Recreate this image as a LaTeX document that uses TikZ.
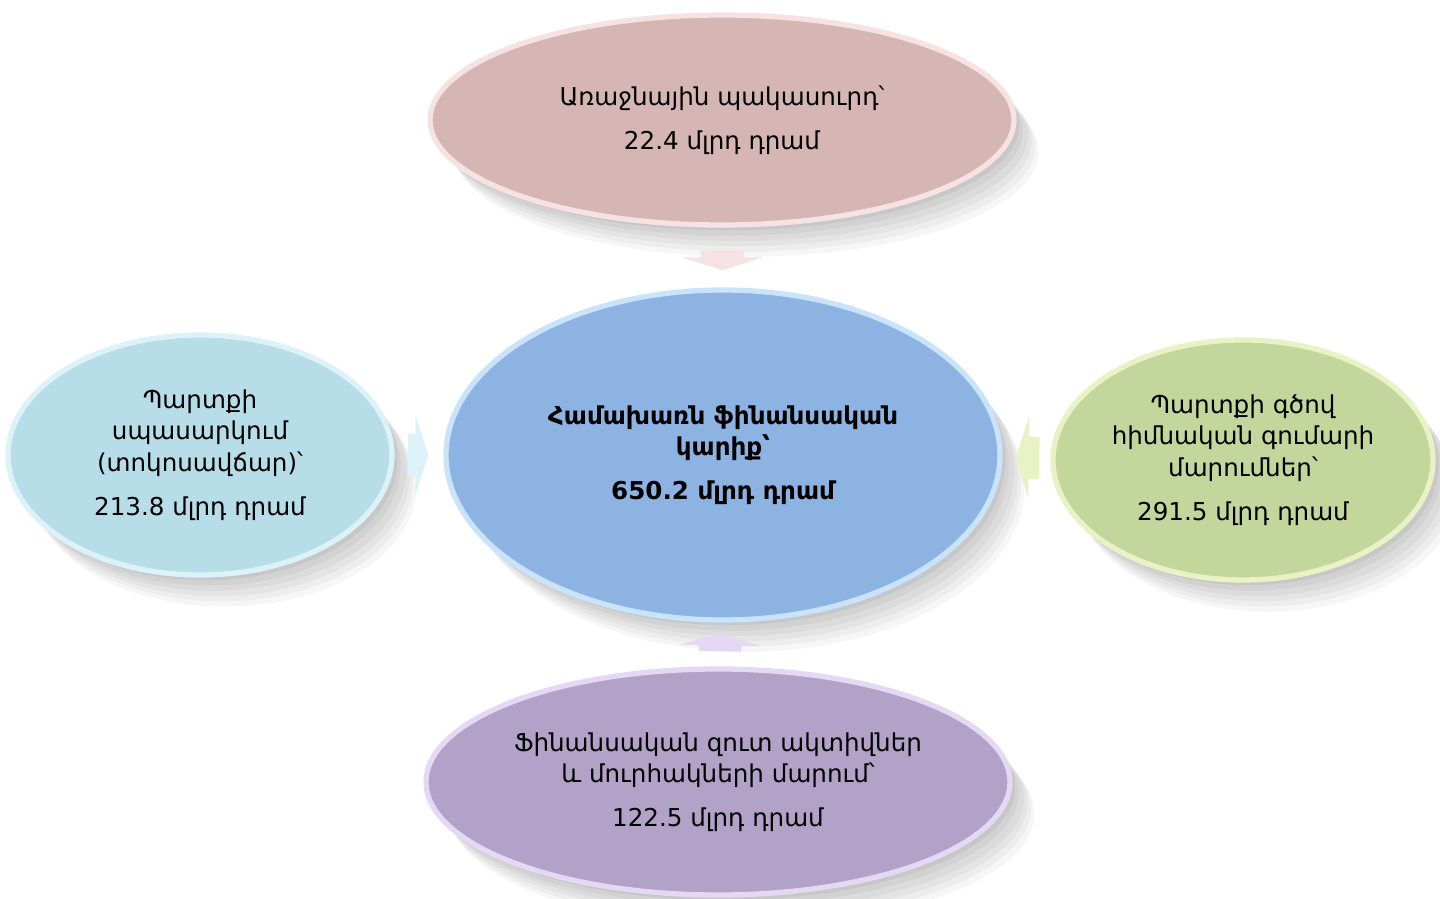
\documentclass[tikz,border=0pt]{standalone}
\usepackage{fontspec}
\setmainfont{DejaVu Sans}
\usetikzlibrary{arrows.meta,
                shadows,
                shapes.geometric
            }

\definecolor{rosefill}{HTML}{D5B6B5}
\definecolor{roserim}{HTML}{F6E2E2}
\definecolor{bluefill}{HTML}{8DB3E2}
\definecolor{bluerim}{HTML}{C9E3FA}
\definecolor{cyanfill}{HTML}{B7DDE8}
\definecolor{cyanrim}{HTML}{DDF2F8}
\definecolor{limefill}{HTML}{C3D69B}
\definecolor{limerim}{HTML}{E8F2C4}
\definecolor{lilacfill}{HTML}{B2A2C7}
\definecolor{lilacrim}{HTML}{E4D8F4}

\begin{document}
\begin{tikzpicture}[
    bubble/.style={ellipse, inner sep=0pt, align=center, line width=3pt,
        font=\fontsize{14}{18}\selectfont,
        general shadow={fill=black, opacity=0.035, shadow xshift=14pt, shadow yshift=-18pt},
        general shadow={fill=black, opacity=0.035, shadow xshift=12pt, shadow yshift=-15pt},
        general shadow={fill=black, opacity=0.04, shadow xshift=10pt, shadow yshift=-12pt},
        general shadow={fill=black, opacity=0.04, shadow xshift=8pt, shadow yshift=-9pt},
        general shadow={fill=black, opacity=0.045, shadow xshift=5pt, shadow yshift=-6pt},
        general shadow={fill=black, opacity=0.05, shadow xshift=3pt, shadow yshift=-3pt}},
    feed/.style={line width=0.85cm, -{Triangle[width=1.6cm, length=0.26cm]}}
]
    \useasboundingbox (0, 0) rectangle (28.8, 17.98);

    \node[bubble, fill=rosefill, draw=roserim, minimum width=11.68cm, minimum height=4.2cm]
        (top) at (14.44, 15.58) {Առաջնային պակասուրդ՝\\[7pt]22.4 մլրդ դրամ};
    \node[bubble, fill=cyanfill, draw=cyanrim, minimum width=7.68cm, minimum height=4.8cm]
        (lft) at (4.0, 8.88) {Պարտքի\\սպասարկում\\(տոկոսավճար)՝\\[7pt]213.8 մլրդ դրամ};
    \node[bubble, fill=limefill, draw=limerim, minimum width=7.6cm, minimum height=4.8cm]
        (rgt) at (24.86, 8.78) {Պարտքի գծով\\հիմնական գումարի\\մարումներ՝\\[7pt]291.5 մլրդ դրամ};
    \node[bubble, fill=lilacfill, draw=lilacrim, minimum width=11.68cm, minimum height=4.52cm]
        (bot) at (14.36, 2.34) {Ֆինանսական զուտ ակտիվներ\\և մուրհակների մարում՝\\[7pt]122.5 մլրդ դրամ};
    \node[bubble, fill=bluefill, draw=bluerim, minimum width=11.08cm, minimum height=6.6cm,
        font=\fontsize{14}{18}\selectfont\bfseries]
        (hub) at (14.46, 8.88) {Համախառն ֆինանսական\\կարիք՝\\[7pt]650.2 մլրդ դրամ};

    \draw[feed, draw=roserim, shorten <=0.46cm, shorten >=0.34cm] (top) -- (hub);
    \draw[feed, draw=lilacrim, shorten <=0.3cm, shorten >=0.2cm] (bot) -- (hub);
    \draw[feed, draw=cyanrim, shorten <=0.26cm, shorten >=0.3cm] (lft) -- (hub);
    \draw[feed, draw=limerim, shorten <=0.22cm, shorten >=0.26cm] (rgt) -- (hub);
\end{tikzpicture}
\end{document}
